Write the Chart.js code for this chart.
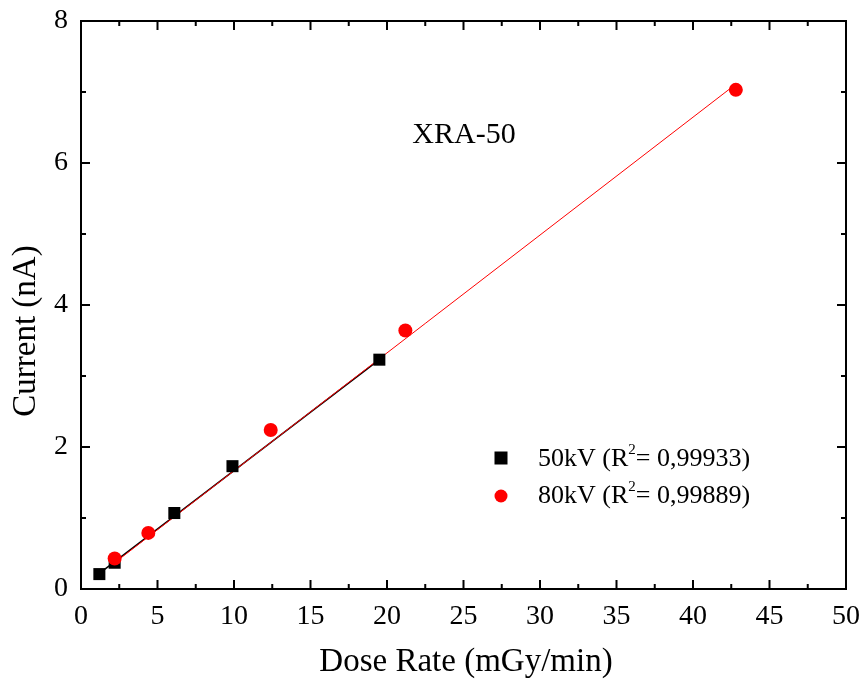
<!DOCTYPE html>
<html lang="en">
<head>
  <meta charset="UTF-8">
  <title>XRA-50 current vs dose rate</title>
  <script src="https://cdn.jsdelivr.net/npm/chart.js"></script>
  <style>
    body { margin: 0; background: #fff; }
    canvas { display: block; }
  </style>
</head>
<body>
  <canvas id="myChart" width="866" height="684"></canvas>

  <script>
    const dose50 = [1.2, 2.2, 6.1, 9.9, 19.5];
    const current50 = [0.21, 0.37, 1.07, 1.73, 3.23];
    const dose80 = [2.2, 4.4, 12.4, 21.2, 42.8];
    const current80 = [0.43, 0.79, 2.24, 3.64, 7.03];

    // linear fit end points
    const fit50X = [1.2, 19.5];
    const fit50Y = [0.22, 3.23];
    const fit80X = [2.2, 42.8];
    const fit80Y = [0.37, 7.11];

    const seriesLabels = ['50kV', '80kV'];
    const r2Values = ['0,99933', '0,99889'];
    const seriesColors = ['#000000', '#ff0000'];

    const FONT = "'Liberation Serif', 'Times New Roman', serif";

    function toPoints(xs, ys) {
      return xs.map((x, i) => ({ x: x, y: ys[i] }));
    }

    // frame, inward ticks, labels and legend
    const decorations = {
      id: 'decorations',
      afterDatasetsDraw(chart) {
        const ctx = chart.ctx;
        const a = chart.chartArea;
        const xs = chart.scales.x;
        const ys = chart.scales.y;
        ctx.save();
        ctx.strokeStyle = '#000';
        ctx.lineWidth = 2;
        ctx.strokeRect(a.left, a.top, a.right - a.left, a.bottom - a.top);

        ctx.beginPath();
        for (let v = 0; v <= 50; v += 2.5) {
          const px = xs.getPixelForValue(v);
          const len = (v % 5 === 0) ? 9 : 5;
          ctx.moveTo(px, a.bottom); ctx.lineTo(px, a.bottom - len);
          ctx.moveTo(px, a.top); ctx.lineTo(px, a.top + len);
        }
        for (let v = 0; v <= 8; v += 1) {
          const py = ys.getPixelForValue(v);
          const len = (v % 2 === 0) ? 9 : 5;
          ctx.moveTo(a.left, py); ctx.lineTo(a.left + len, py);
          ctx.moveTo(a.right, py); ctx.lineTo(a.right - len, py);
        }
        ctx.stroke();

        // axis titles
        ctx.fillStyle = '#000';
        ctx.font = '33px ' + FONT;
        ctx.textAlign = 'center';
        ctx.textBaseline = 'alphabetic';
        ctx.fillText('Dose Rate (mGy/min)', 466, 671);
        ctx.save();
        ctx.translate(35, 331);
        ctx.rotate(-Math.PI / 2);
        ctx.fillText('Current (nA)', 0, 0);
        ctx.restore();

        // plot title
        ctx.font = '30px ' + FONT;
        ctx.fillText('XRA-50', 464, 143);

        // legend
        const lx = 501, rows = [458, 496], base = [466, 503];
        rows.forEach((ry, i) => {
          ctx.fillStyle = seriesColors[i];
          if (i === 0) {
            ctx.fillRect(lx - 6.5, ry - 6.5, 13, 13);
          } else {
            ctx.beginPath();
            ctx.arc(lx, ry, 6.5, 0, Math.PI * 2);
            ctx.fill();
          }
          ctx.fillStyle = '#000';
          ctx.textAlign = 'left';
          ctx.font = '26px ' + FONT;
          let tx = 538;
          const head = seriesLabels[i] + ' (R';
          ctx.fillText(head, tx, base[i]);
          tx += ctx.measureText(head).width;
          ctx.font = '15px ' + FONT;
          ctx.fillText('2', tx, base[i] - 12);
          tx += ctx.measureText('2').width;
          ctx.font = '26px ' + FONT;
          ctx.fillText('= ' + r2Values[i] + ')', tx, base[i]);
        });
        ctx.restore();
      }
    };

    const ctx = document.getElementById('myChart').getContext('2d');
    new Chart(ctx, {
      type: 'scatter',
      data: {
        datasets: [
          {
            label: '50kV',
            data: toPoints(dose50, current50),
            pointStyle: 'rect',
            pointRadius: 8.5,
            pointHoverRadius: 8.5,
            backgroundColor: '#000',
            borderWidth: 0,
            order: 1,
          },
          {
            label: '80kV',
            data: toPoints(dose80, current80),
            pointStyle: 'circle',
            pointRadius: 7,
            pointHoverRadius: 7,
            backgroundColor: '#ff0000',
            borderWidth: 0,
            order: 0,
          },
          {
            label: 'fit 50kV',
            type: 'line',
            data: toPoints(fit50X, fit50Y),
            borderColor: '#000',
            borderWidth: 1.5,
            pointRadius: 0,
            fill: false,
            order: 3,
          },
          {
            label: 'fit 80kV',
            type: 'line',
            data: toPoints(fit80X, fit80Y),
            borderColor: '#ff0000',
            borderWidth: 1,
            pointRadius: 0,
            fill: false,
            order: 2,
          },
        ],
      },
      options: {
        responsive: false,
        animation: false,
        layout: { padding: { left: 0, right: 20, top: 21, bottom: 0 } },
        plugins: {
          legend: { display: false },
          tooltip: { enabled: false },
        },
        scales: {
          x: {
            type: 'linear',
            min: 0,
            max: 50,
            afterFit(scale) {
              scale.height = 95;
              scale.paddingLeft = 0;
              scale.paddingRight = 0;
            },
            grid: { display: false, drawTicks: false },
            border: { display: false },
            ticks: {
              stepSize: 5,
              padding: 11,
              color: '#000',
              font: { family: FONT, size: 28 },
            },
          },
          y: {
            type: 'linear',
            min: 0,
            max: 8,
            afterFit(scale) {
              scale.width = 81;
              scale.paddingTop = 0;
              scale.paddingBottom = 0;
            },
            grid: { display: false, drawTicks: false },
            border: { display: false },
            ticks: {
              stepSize: 2,
              padding: 13,
              color: '#000',
              font: { family: FONT, size: 28 },
            },
          },
        },
      },
      plugins: [decorations],
    });
  </script>
</body>
</html>
